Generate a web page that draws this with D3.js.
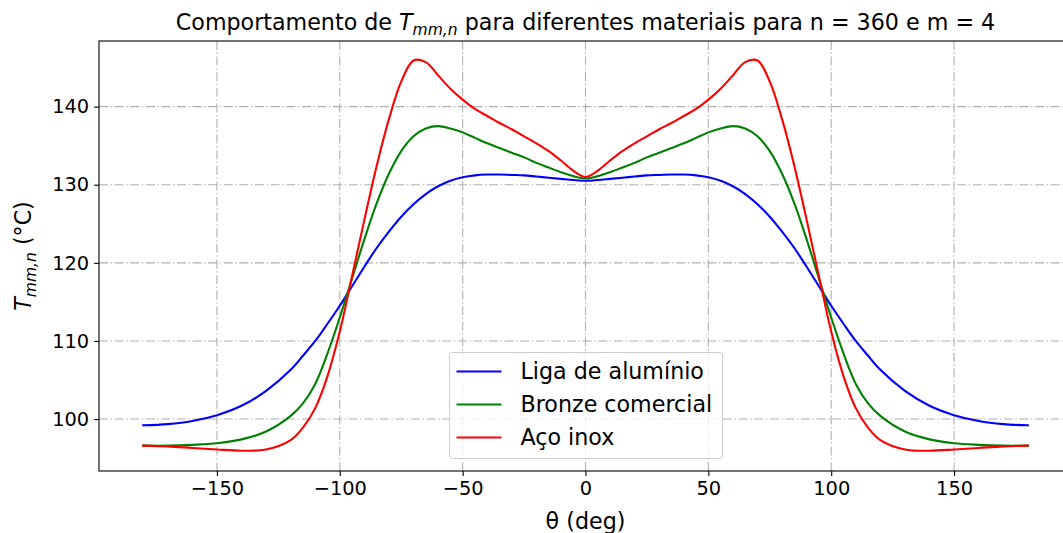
<!DOCTYPE html>
<html>
<head>
<meta charset="utf-8">
<script src="https://cdn.jsdelivr.net/npm/d3@7"></script>
<style>
  html, body { margin: 0; padding: 0; background: #fff; }
  svg { display: block; font-family: "DejaVu Sans", sans-serif; }
</style>
</head>
<body>
<svg id="chart" width="1063" height="533"></svg>
<script>
// Angular positions (deg)
const theta = [-180, -170, -160, -150, -140, -130, -120, -115, -110, -105, -100, -95, -90, -85, -80, -75, -70, -65, -60, -55, -50, -45, -40, -35, -30, -25, -20, -15, -10, -5, 0,
  5, 10, 15, 20, 25, 30, 35, 40, 45, 50, 55, 60, 65, 70, 75, 80, 85, 90, 95, 100, 105, 110, 115, 120, 130, 140, 150, 160, 170, 180];

// Mean temperature T_mm,n (°C) per material
const ligaAluminio = [99.2, 99.35, 99.75, 100.5, 101.7, 103.6, 106.3, 108.1, 110.0, 112.2, 114.5, 117.0, 119.5, 121.9, 124.0, 125.9, 127.5, 128.8, 129.8, 130.5, 130.95, 131.2, 131.3, 131.3, 131.25, 131.2, 131.05, 130.9, 130.75, 130.6, 130.5,
  130.6, 130.75, 130.9, 131.05, 131.2, 131.25, 131.3, 131.3, 131.2, 130.95, 130.5, 129.8, 128.8, 127.5, 125.9, 124.0, 121.9, 119.5, 117.0, 114.5, 112.2, 110.0, 108.1, 106.3, 103.6, 101.7, 100.5, 99.75, 99.35, 99.2];

const bronzeComercial = [96.6, 96.6, 96.7, 96.9, 97.4, 98.4, 100.4, 102.0, 104.5, 108.4, 113.0, 118.0, 123.0, 127.6, 131.4, 134.3, 136.2, 137.2, 137.5, 137.2, 136.7, 136.0, 135.3, 134.7, 134.1, 133.5, 132.8, 132.2, 131.6, 131.1, 130.8,
  131.1, 131.6, 132.2, 132.8, 133.5, 134.1, 134.7, 135.3, 136.0, 136.7, 137.2, 137.5, 137.2, 136.2, 134.3, 131.4, 127.6, 123.0, 118.0, 113.0, 108.4, 104.5, 102.0, 100.4, 98.4, 97.4, 96.9, 96.7, 96.6, 96.6];

const acoInox = [96.6, 96.5, 96.3, 96.1, 95.95, 96.1, 97.3, 98.9, 101.4, 105.5, 111.2, 118.3, 125.5, 132.4, 138.4, 143.2, 145.9, 145.7, 144.0, 142.3, 140.9, 139.7, 138.8, 137.9, 137.1, 136.2, 135.3, 134.3, 133.1, 131.8, 131.0,
  131.8, 133.1, 134.3, 135.3, 136.2, 137.1, 137.9, 138.8, 139.7, 140.9, 142.3, 144.0, 145.7, 145.9, 143.2, 138.4, 132.4, 125.5, 118.3, 111.2, 105.5, 101.4, 98.9, 97.3, 96.1, 95.95, 96.1, 96.3, 96.5, 96.6];

const seriesNames = ["Liga de alumínio", "Bronze comercial", "Aço inox"];
const seriesColors = ["#0000ff", "#008000", "#ff0000"];
const seriesValues = [ligaAluminio, bronzeComercial, acoInox];

const xTicks = [-150, -100, -50, 0, 50, 100, 150];
const yTicks = [100, 110, 120, 130, 140];

const svg = d3.select("#chart");
const plot = { left: 99, right: 1072, top: 41, bottom: 471 };
const FS = 19.4;      // tick labels
const FL = 22.2;      // title, axis labels, legend

const x = d3.scaleLinear().domain([-198, 198]).range([plot.left, plot.right]);
const y = d3.scaleLinear().domain([93.35, 148.4]).range([plot.bottom, plot.top]);

// Grid
const grid = svg.append("g").attr("stroke", "#b0b0b0").attr("stroke-width", 1.1)
  .attr("stroke-dasharray", "9,2.6,1.4,2.6").attr("fill", "none");
xTicks.forEach(t => grid.append("line")
  .attr("x1", x(t)).attr("x2", x(t)).attr("y1", plot.top).attr("y2", plot.bottom));
yTicks.forEach(t => grid.append("line")
  .attr("x1", plot.left).attr("x2", plot.right).attr("y1", y(t)).attr("y2", y(t)));

// Curves
const line = d3.line()
  .x((d, i) => x(theta[i]))
  .y(d => y(d))
  .curve(d3.curveCatmullRom.alpha(0.5));

seriesValues.forEach((vals, k) => {
  svg.append("path")
    .datum(vals)
    .attr("d", line)
    .attr("fill", "none")
    .attr("stroke", seriesColors[k])
    .attr("stroke-width", 2.1)
    .attr("stroke-linejoin", "round")
    .attr("stroke-linecap", "square");
});

// Axes
const xAxis = d3.axisBottom(x).tickValues(xTicks).tickSize(4.9).tickPadding(4.9);
const yAxis = d3.axisLeft(y).tickValues(yTicks).tickSize(4.9).tickPadding(4.9);

const gx = svg.append("g").attr("transform", `translate(0,${plot.bottom})`).call(xAxis);
const gy = svg.append("g").attr("transform", `translate(${plot.left},0)`).call(yAxis);
[gx, gy].forEach(g => {
  g.select(".domain").remove();
  g.selectAll(".tick line").attr("stroke", "#000").attr("stroke-width", 1.1);
  g.selectAll(".tick text").attr("fill", "#000").attr("font-size", FS)
    .attr("font-family", "DejaVu Sans");
});
gx.selectAll(".tick text").attr("dy", "0.71em");

// Spines
svg.append("rect")
  .attr("x", plot.left).attr("y", plot.top)
  .attr("width", plot.right - plot.left).attr("height", plot.bottom - plot.top)
  .attr("fill", "none").attr("stroke", "#000").attr("stroke-width", 1.1);

// Title
const title = svg.append("text")
  .attr("x", (plot.left + plot.right) / 2).attr("y", 30)
  .attr("text-anchor", "middle").attr("font-size", FL).attr("fill", "#000");
title.append("tspan").text("Comportamento de ");
title.append("tspan").attr("font-style", "italic").text("T");
title.append("tspan").attr("font-style", "italic").attr("font-size", FL * 0.7)
  .attr("dy", 4.5).text("mm,n");
title.append("tspan").attr("dy", -4.5).text(" para diferentes materiais para n = 360 e m = 4");

// Axis labels
svg.append("text")
  .attr("x", (plot.left + plot.right) / 2).attr("y", 529)
  .attr("text-anchor", "middle").attr("font-size", FL).attr("fill", "#000")
  .text("θ (deg)");

const yl = svg.append("text")
  .attr("transform", `translate(31,${(plot.top + plot.bottom) / 2}) rotate(-90)`)
  .attr("text-anchor", "middle").attr("font-size", FL).attr("fill", "#000");
yl.append("tspan").attr("font-style", "italic").text("T");
yl.append("tspan").attr("font-style", "italic").attr("font-size", FL * 0.7)
  .attr("dy", 4.5).text("mm,n");
yl.append("tspan").attr("dy", -4.5).text(" (°C)");

// Legend
const legend = svg.append("g").attr("transform", "translate(449.5,352.5)");
legend.append("rect")
  .attr("width", 273).attr("height", 106).attr("rx", 3)
  .attr("fill", "#fff").attr("fill-opacity", 0.8)
  .attr("stroke", "#cccccc").attr("stroke-width", 1);
seriesNames.forEach((name, k) => {
  const cy = 19 + k * 33;
  legend.append("line")
    .attr("x1", 7).attr("x2", 52).attr("y1", cy).attr("y2", cy)
    .attr("stroke", seriesColors[k]).attr("stroke-width", 2.1);
  legend.append("text")
    .attr("x", 71).attr("y", cy).attr("dy", "0.35em")
    .attr("font-size", FL).attr("fill", "#000").text(name);
});
</script>
</body>
</html>
